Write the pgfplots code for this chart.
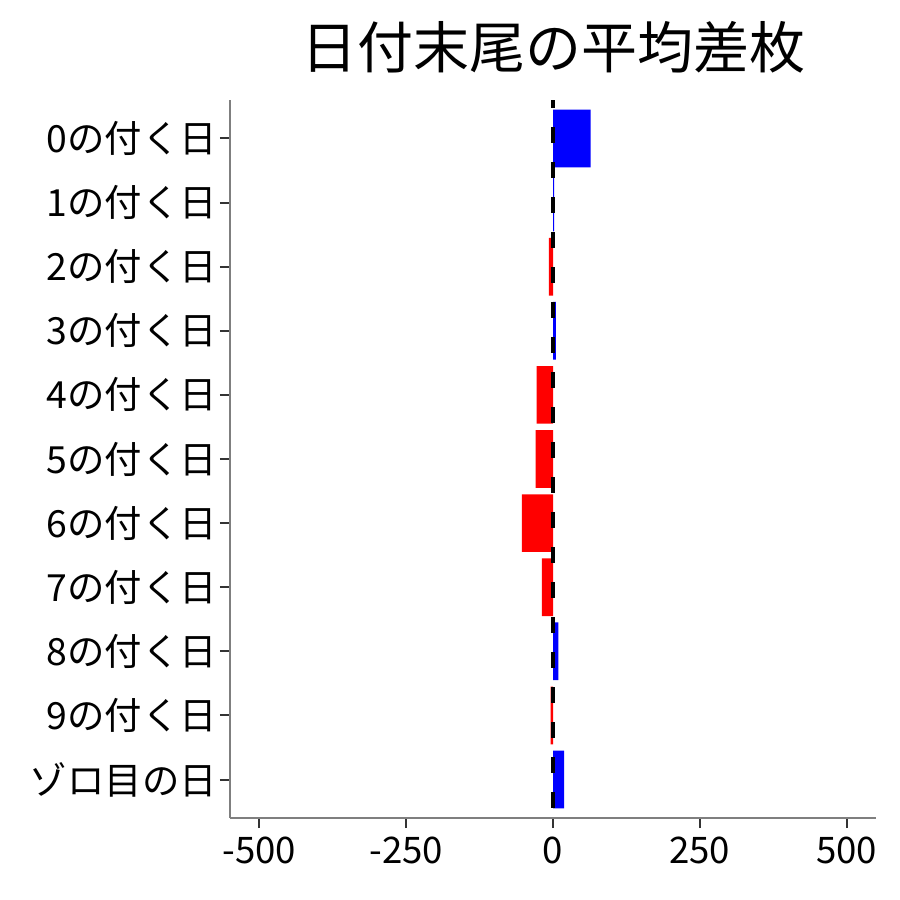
\documentclass[border=0pt]{standalone}
\usepackage{pgfplots}
\pgfplotsset{compat=1.18}
\usepackage{fontspec}
\setmainfont{Noto Sans CJK JP}
\definecolor{axgray}{HTML}{7F7F7F}
\definecolor{tkgray}{HTML}{333333}
\begin{document}
\begin{tikzpicture}
\begin{axis}[
  scale only axis,
  width=323pt, height=359pt,
  xmin=-550, xmax=550,
  ymin=-0.6, ymax=10.6,
  y dir=reverse,
  axis lines*=left,
  axis line style={axgray, line width=0.65pt},
  xtick={-500,-250,0,250,500},
  ytick={0,...,10},
  yticklabels={0の付く日,1の付く日,2の付く日,3の付く日,4の付く日,5の付く日,6の付く日,7の付く日,8の付く日,9の付く日,ゾロ目の日},
  tick align=outside,
  major tick length=5pt,
  tick style={tkgray, line width=1pt},
  ticklabel style={text=black},
  /pgf/number format/assume math mode=true,
  xticklabel style={yshift=-1pt, font=\fontsize{18.3}{20}\selectfont},
  yticklabel style={xshift=2pt, font=\fontsize{18.7}{20}\selectfont},
  title={日付末尾の平均差枚},
  title style={font=\fontsize{28}{32}\selectfont, yshift=4pt},
  clip=false,
]
\addplot[xbar, bar width=0.9, bar shift=0pt, fill=blue, draw=none] coordinates {
  (64,0) (2,1) (5,3) (9,8) (19,10)
};
\addplot[xbar, bar width=0.9, bar shift=0pt, fill=red, draw=none] coordinates {
  (-7,2) (-28,4) (-29.5,5) (-53,6) (-19,7) (-4,9)
};
\addplot[black, line width=2pt, dash pattern=on 8pt off 9.5pt, dash phase=4pt] coordinates {(0,-0.6) (0,10.6)};
\end{axis}
\path (current axis.south west) ++(-115pt,-41pt) coordinate (bl);
\path (current axis.north east) ++(12pt,50pt) coordinate (tr);
\path (bl) rectangle (tr);
\end{tikzpicture}
\end{document}
